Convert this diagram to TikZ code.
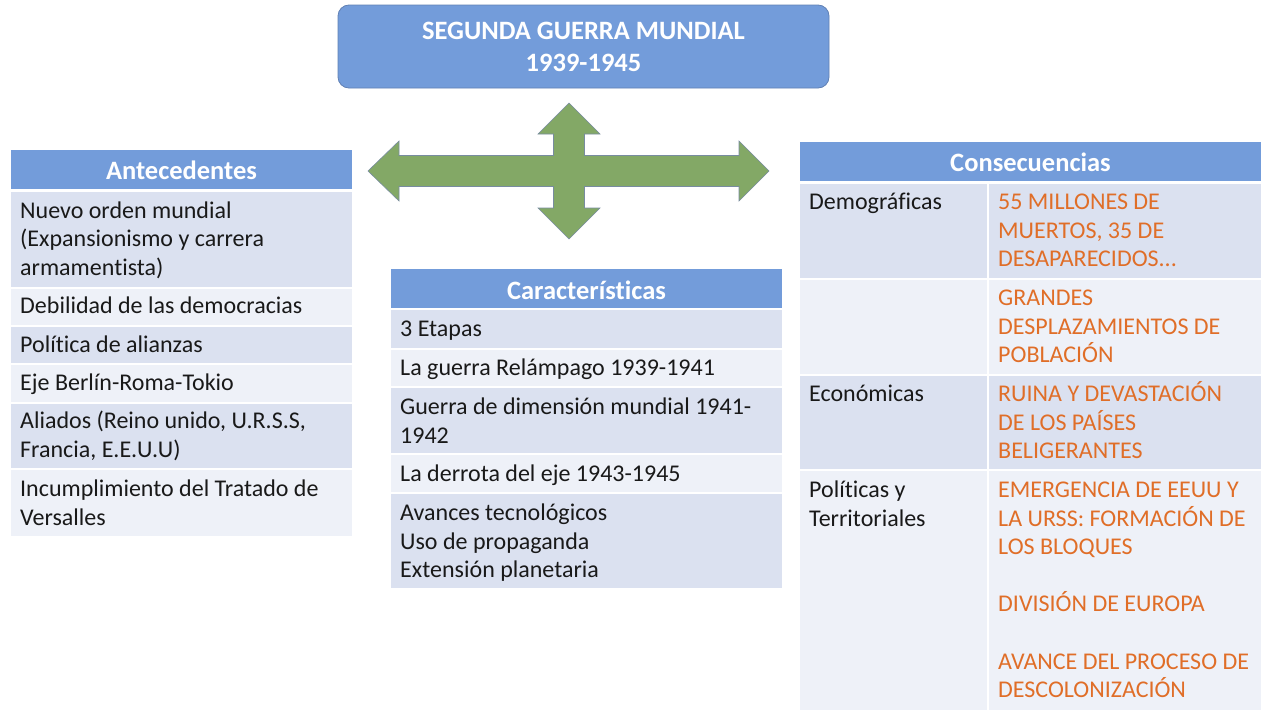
\documentclass[tikz,border=0pt]{standalone}
\usepackage{fontspec}
\setmainfont{Carlito}[Ligatures=NoCommon]
\definecolor{hdr}{RGB}{115,156,218}
\definecolor{hdrline}{RGB}{96,128,180}
\definecolor{bandA}{RGB}{219,225,240}
\definecolor{bandB}{RGB}{238,241,248}
\definecolor{txt}{RGB}{25,25,25}
\definecolor{org}{RGB}{224,110,40}
\definecolor{arrfill}{RGB}{131,168,102}
\definecolor{arrline}{RGB}{120,140,160}
\tikzset{
  cell/.style={anchor=base west, inner sep=0pt, text=txt, font=\fontsize{24}{28.6}\selectfont},
  ocell/.style={cell, text=org},
  hdrtext/.style={inner sep=0pt, text=white, font=\bfseries\fontsize{26.5}{28.6}\selectfont},
}
\newcommand{\cl}[1]{\parbox[t]{20cm}{\raggedright #1}}
\begin{document}
\begin{tikzpicture}[x=1pt,y=-1pt]
\useasboundingbox (0,0) rectangle (1280,720);
\fill[white] (0,0) rectangle (1280,720);
% title
\node[draw=hdrline, line width=0.8pt, fill=hdr, rounded corners=11pt, minimum width=491pt, minimum height=83pt, inner sep=0pt] (title) at (583.5,46.5) {};
\node[hdrtext, align=center, font=\bfseries\fontsize{26.5}{32}\selectfont] (titletext) at (583.5,47) {SEGUNDA GUERRA MUNDIAL\\1939-1945};
% cross arrow
\filldraw[fill=arrfill, draw=arrline, line width=0.6pt, line join=miter]
 (569,103) -- (600,134) -- (584.5,134) -- (584.5,155.5) -- (739,155.5) -- (739,141) -- (769,171)
 -- (739,201) -- (739,186.5) -- (584.5,186.5) -- (584.5,208) -- (600,208) -- (569,239)
 -- (538,208) -- (553.5,208) -- (553.5,186.5) -- (399,186.5) -- (399,201) -- (368,171)
 -- (399,141) -- (399,155.5) -- (553.5,155.5) -- (553.5,134) -- (538,134) -- cycle;
% ---------- left table
\fill[hdr] (11,150) rectangle (352,189);
\fill[bandA] (11,191.5) rectangle (352,286.5);
\fill[bandB] (11,288.5) rectangle (352,324.5);
\fill[bandA] (11,326.5) rectangle (352,363);
\fill[bandB] (11,365) rectangle (352,401.5);
\fill[bandA] (11,403.5) rectangle (352,467.5);
\fill[bandB] (11,469.5) rectangle (352,535.5);
\node[hdrtext] (anth) at (181.5,170) {Antecedentes};
\node[cell] (a1) at (20,218) {\cl{Nuevo orden mundial\\(Expansionismo y carrera\\armamentista)}};
\node[cell] (a2) at (20,313.5) {\cl{Debilidad de las democracias}};
\node[cell] (a3) at (20,352) {\cl{Política de alianzas}};
\node[cell] (a4) at (20,390.5) {\cl{Eje Berlín-Roma-Tokio}};
\node[cell] (a5) at (20,428.5) {\cl{Aliados (Reino unido, U.R.S.S,\\Francia, E.E.U.U)}};
\node[cell] (a6) at (20,496.5) {\cl{Incumplimiento del Tratado de\\Versalles}};
% ---------- middle table
\fill[hdr] (391,269) rectangle (782,307.5);
\fill[bandA] (391,310) rectangle (782,347.5);
\fill[bandB] (391,349.5) rectangle (782,386);
\fill[bandA] (391,388) rectangle (782,453);
\fill[bandB] (391,455) rectangle (782,492);
\fill[bandA] (391,494) rectangle (782,588);
\node[hdrtext] (carh) at (586.5,290) {Características};
\node[cell] (c1) at (400,336.5) {\cl{3 Etapas}};
\node[cell] (c2) at (400,375.5) {\cl{La guerra Relámpago 1939-1941}};
\node[cell] (c3) at (400,414.5) {\cl{Guerra de dimensión mundial 1941-\\1942}};
\node[cell] (c4) at (400,481.5) {\cl{La derrota del eje 1943-1945}};
\node[cell] (c5) at (400,520.5) {\cl{Avances tecnológicos\\Uso de propaganda\\Extensión planetaria}};
% ---------- right table
\fill[hdr] (800,142) rectangle (1261,180.5);
\fill[bandA] (800,183.5) rectangle (987,277.5);
\fill[bandA] (989,183.5) rectangle (1261,277.5);
\fill[bandB] (800,279.5) rectangle (987,373.5);
\fill[bandB] (989,279.5) rectangle (1261,373.5);
\fill[bandA] (800,375.5) rectangle (987,469);
\fill[bandA] (989,375.5) rectangle (1261,469);
\fill[bandB] (800,471) rectangle (987,709.5);
\fill[bandB] (989,471) rectangle (1261,709.5);
\node[hdrtext] (conh) at (1030.5,162.5) {Consecuencias};
\node[cell] (r1a) at (809,209.5) {\cl{Demográficas}};
\node[ocell] (r1b) at (998,209.5) {\cl{55 MILLONES DE\\MUERTOS, 35 DE\\DESAPARECIDOS...}};
\node[ocell] (r2b) at (998,305.5) {\cl{GRANDES\\DESPLAZAMIENTOS DE\\POBLACIÓN}};
\node[cell] (r3a) at (809,401.5) {\cl{Económicas}};
\node[ocell] (r3b) at (998,401.5) {\cl{RUINA Y DEVASTACIÓN\\DE LOS PAÍSES\\BELIGERANTES}};
\node[cell] (r4a) at (809,497.5) {\cl{Políticas y\\Territoriales}};
\node[ocell] (r4b) at (998,497.5) {\cl{EMERGENCIA DE EEUU Y\\LA URSS: FORMACIÓN DE\\LOS BLOQUES\\[28.6pt]DIVISIÓN DE EUROPA\\[28.6pt]AVANCE DEL PROCESO DE\\DESCOLONIZACIÓN}};
\end{tikzpicture}
\end{document}
